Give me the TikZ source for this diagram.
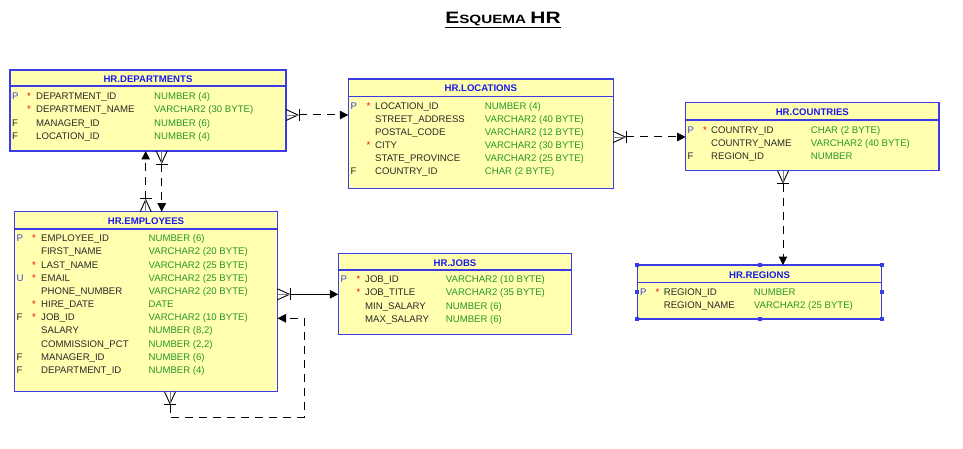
\documentclass[tikz,border=0pt]{standalone}
\usepackage{fontspec}
\setmainfont{Liberation Sans}
\usetikzlibrary{arrows.meta,calc}
\definecolor{tfill}{RGB}{255,255,175}
\definecolor{tborder}{RGB}{60,60,230}
\definecolor{ttitle}{RGB}{25,25,235}
\definecolor{ttype}{RGB}{40,150,40}
\definecolor{tname}{RGB}{40,40,40}
\newcommand\tf{\fontsize{9.6}{11}\selectfont}
\tikzset{
  tbl/.style={draw=tborder, fill=tfill, line width=1.1pt, anchor=north west, inner sep=0pt, outer sep=0pt},
  sepl/.style={draw=tborder, line width=1.1pt},
  ttl/.style={font=\tf\bfseries, text=ttitle, anchor=base, inner sep=0pt},
  fl/.style={font=\tf, text=tborder, anchor=base west, inner sep=0pt},
  ff/.style={font=\tf, text=tname, anchor=base west, inner sep=0pt},
  st/.style={font=\tf, text=red, anchor=base west, inner sep=0pt},
  nm/.style={font=\tf, text=tname, anchor=base west, inner sep=0pt},
  ty/.style={font=\tf, text=ttype, anchor=base west, inner sep=0pt},
  rel/.style={line width=1pt, black},
  fk/.style={rel, dash pattern=on 8pt off 6pt},
  tip/.style={-{Triangle[length=8.5pt,width=8.5pt]}},
  crowline/.style={line width=0.9pt, black},
  crowmid/.style={line width=0.6pt, gray},
  handle/.style={fill=tborder},
  crow/.pic={\draw[crowline] (0,5.5) -- (12,0) -- (0,-5.5);
             \draw[crowmid] (0,0) -- (12,0);
             \draw[crowline] (13,6) -- (13,-6);}
}
\newcommand\rw[4]{% prefix, y, name, type
  \node[nm] (#1n) at (\cN,#2+3.4) {#3};
  \node[ty] (#1t) at (\cT,#2+3.4) {#4};}
\begin{document}
\begin{tikzpicture}[x=1pt,y=-1pt]
\useasboundingbox (0,0) rectangle (963,449);
\fill[white] (0,0) rectangle (963,449);

% title
\node[anchor=base, inner sep=0pt, xscale=1.27] (title) at (503,23.3)
  {\fontsize{16.5}{18}\selectfont\bfseries E\fontsize{12}{14}\selectfont SQUEMA \fontsize{16.5}{18}\selectfont HR};
\draw[line width=1.5pt] ([yshift=-4.3pt]title.base west) -- ([yshift=-4.3pt]title.base east);

% ---------- tables ----------
\node[tbl, minimum width=276pt, minimum height=81pt] (dep) at (10,70) {};
\draw[sepl] (10,86) -- (286,86);
\node[ttl] (depT) at (148,82.7) {HR.DEPARTMENTS};
\def\cP{12}\def\cS{27}\def\cN{36}\def\cT{154}
\node[fl] (d1f) at (\cP,99.4) {P};
\node[st] (d1s) at (\cS,99.4) {*};
\node[st] (d2s) at (\cS,112.7) {*};
\node[ff] (d3f) at (\cP,126.1) {F};
\node[ff] (d4f) at (\cP,139.4) {F};
\rw{d1}{96}{DEPARTMENT\_ID}{NUMBER (4)}
\rw{d2}{109.3}{DEPARTMENT\_NAME}{VARCHAR2 (30 BYTE)}
\rw{d3}{122.7}{MANAGER\_ID}{NUMBER (6)}
\rw{d4}{136}{LOCATION\_ID}{NUMBER (4)}

\node[tbl, minimum width=263pt, minimum height=180pt] (emp) at (14.5,211.7) {};
\draw[sepl] (14.5,229) -- (277.5,229);
\node[ttl] (empT) at (146,224.4) {HR.EMPLOYEES};
\def\cP{16.5}\def\cS{32}\def\cN{41}\def\cT{148.5}
\node[fl] (e1f) at (\cP,241.7) {P};
\node[st] (e1s) at (\cS,241.7) {*};
\node[st] (e3s) at (\cS,268) {*};
\node[fl] (e4f) at (\cP,281.2) {U};
\node[st] (e4s) at (\cS,281.2) {*};
\node[st] (e6s) at (\cS,307.6) {*};
\node[ff] (e7f) at (\cP,320.7) {F};
\node[st] (e7s) at (\cS,320.7) {*};
\node[ff] (e10f) at (\cP,360.2) {F};
\node[ff] (e11f) at (\cP,373.4) {F};
\rw{e1}{238.3}{EMPLOYEE\_ID}{NUMBER (6)}
\rw{e2}{251.5}{FIRST\_NAME}{VARCHAR2 (20 BYTE)}
\rw{e3}{264.6}{LAST\_NAME}{VARCHAR2 (25 BYTE)}
\rw{e4}{277.8}{EMAIL}{VARCHAR2 (25 BYTE)}
\rw{e5}{291}{PHONE\_NUMBER}{VARCHAR2 (20 BYTE)}
\rw{e6}{304.2}{HIRE\_DATE}{DATE}
\rw{e7}{317.3}{JOB\_ID}{VARCHAR2 (10 BYTE)}
\rw{e8}{330.5}{SALARY}{NUMBER (8,2)}
\rw{e9}{343.7}{COMMISSION\_PCT}{NUMBER (2,2)}
\rw{e10}{356.8}{MANAGER\_ID}{NUMBER (6)}
\rw{e11}{370}{DEPARTMENT\_ID}{NUMBER (4)}

\node[tbl, minimum width=265pt, minimum height=109.3pt] (loc) at (348.3,79) {};
\draw[sepl] (348.3,96.7) -- (613.3,96.7);
\node[ttl] (locT) at (480.8,91.7) {HR.LOCATIONS};
\def\cP{350.5}\def\cS{366.5}\def\cN{375}\def\cT{484.7}
\node[fl] (l1f) at (\cP,109.1) {P};
\node[st] (l1s) at (\cS,109.1) {*};
\node[st] (l4s) at (\cS,148.6) {*};
\node[ff] (l6f) at (\cP,174.9) {F};
\rw{l1}{105.7}{LOCATION\_ID}{NUMBER (4)}
\rw{l2}{118.9}{STREET\_ADDRESS}{VARCHAR2 (40 BYTE)}
\rw{l3}{132}{POSTAL\_CODE}{VARCHAR2 (12 BYTE)}
\rw{l4}{145.2}{CITY}{VARCHAR2 (30 BYTE)}
\rw{l5}{158.4}{STATE\_PROVINCE}{VARCHAR2 (25 BYTE)}
\rw{l6}{171.5}{COUNTRY\_ID}{CHAR (2 BYTE)}

\node[tbl, minimum width=253.3pt, minimum height=68.4pt] (cty) at (685.7,102.3) {};
\draw[sepl] (685.7,120) -- (939,120);
\node[ttl] (ctyT) at (812.3,115.7) {HR.COUNTRIES};
\def\cP{687.5}\def\cS{703}\def\cN{711}\def\cT{810.7}
\node[fl] (c1f) at (\cP,133.1) {P};
\node[st] (c1s) at (\cS,133.1) {*};
\node[ff] (c3f) at (\cP,159.4) {F};
\rw{c1}{129.7}{COUNTRY\_ID}{CHAR (2 BYTE)}
\rw{c2}{142.9}{COUNTRY\_NAME}{VARCHAR2 (40 BYTE)}
\rw{c3}{156}{REGION\_ID}{NUMBER}

\node[tbl, minimum width=244.4pt, minimum height=54pt] (reg) at (637.3,265) {};
\draw[sepl] (637.3,282.3) -- (881.7,282.3);
\node[ttl] (regT) at (759.5,278.4) {HR.REGIONS};
\def\cP{640}\def\cS{655.5}\def\cN{663.7}\def\cT{753.7}
\node[fl] (r1f) at (\cP,295.7) {P};
\node[st] (r1s) at (\cS,295.7) {*};
\rw{r1}{292.3}{REGION\_ID}{NUMBER}
\rw{r2}{305.5}{REGION\_NAME}{VARCHAR2 (25 BYTE)}
\foreach \a in {north west,north,north east,west,east,south west,south,south east}
  \fill[handle] ([xshift=-2pt,yshift=-2pt]reg.\a) rectangle ([xshift=2pt,yshift=2pt]reg.\a);

\node[tbl, minimum width=233.4pt, minimum height=81pt] (jobs) at (338.3,253.3) {};
\draw[sepl] (338.3,270) -- (571.7,270);
\node[ttl] (jobsT) at (455,266.1) {HR.JOBS};
\def\cP{340.5}\def\cS{356.5}\def\cN{365}\def\cT{445.7}
\node[fl] (j1f) at (\cP,282.7) {P};
\node[st] (j1s) at (\cS,282.7) {*};
\node[st] (j2s) at (\cS,295.9) {*};
\rw{j1}{279.3}{JOB\_ID}{VARCHAR2 (10 BYTE)}
\rw{j2}{292.5}{JOB\_TITLE}{VARCHAR2 (35 BYTE)}
\rw{j3}{305.6}{MIN\_SALARY}{NUMBER (6)}
\rw{j4}{318.8}{MAX\_SALARY}{NUMBER (6)}

% ---------- relations ----------
% departments -> locations
\coordinate (a1) at ([yshift=-4.5pt]dep.east);
\pic at (a1) {crow};
\draw[fk,tip] ([xshift=13pt]a1) -- (a1 -| loc.west);

% locations -> countries
\coordinate (a2) at ([yshift=-3.35pt]loc.east);
\pic at (a2) {crow};
\draw[fk,tip] ([xshift=13pt]a2) -- (a2 -| cty.west);

% countries -> regions
\coordinate (a3) at ([xshift=-29.35pt]cty.south);
\pic[rotate=-90] at (a3) {crow};
\draw[fk,tip] ([yshift=-13pt]a3) -- (a3 |- reg.north);

% employees -> departments
\coordinate (a4) at ([xshift=-0.3pt]emp.north);
\pic[rotate=90] at (a4) {crow};
\draw[fk,tip] ([yshift=13pt]a4) -- (a4 |- dep.south);

% departments (manager) -> employees
\coordinate (a5) at ([xshift=13.7pt]dep.south);
\pic[rotate=-90] at (a5) {crow};
\draw[fk,tip] ([yshift=-13pt]a5) -- (a5 |- emp.north);

% employees -> jobs
\coordinate (a6) at ([yshift=7.4pt]emp.east);
\pic at (a6) {crow};
\draw[rel,tip] ([xshift=13pt]a6) -- (a6 -| jobs.west);

% employees self reference
\coordinate (a7) at ([xshift=24pt]emp.south);
\coordinate (a8) at ([yshift=-16.6pt]emp.east);
\pic[rotate=-90] at (a7) {crow};
\draw[fk,tip] ([yshift=-13pt]a7) -- ++(0,12.6) -| ($(a8)+(26.5,0)$) -- (a8);
\end{tikzpicture}
\end{document}
